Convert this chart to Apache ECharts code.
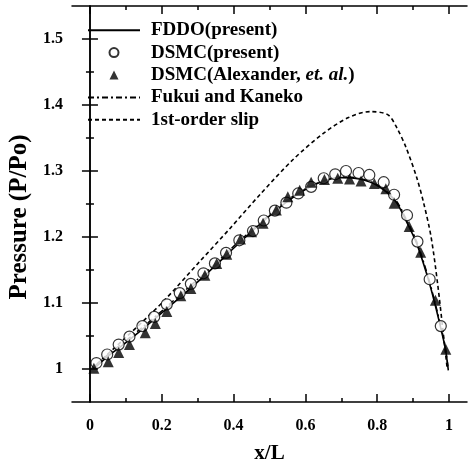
<!DOCTYPE html>
<html>
<head>
<meta charset="utf-8">
<script src="https://cdn.jsdelivr.net/npm/echarts@6/dist/echarts.min.js"></script>
<style>
  html, body { margin: 0; padding: 0; background: #fff; }
  #chart { width: 468px; height: 464px; }
</style>
</head>
<body>
<div id="chart"></div>
<script>
// tick values
var xMajor = [0, 0.2, 0.4, 0.6, 0.8, 1];
var xMinor = [0.1, 0.3, 0.5, 0.7, 0.9];
var yMajor = [1, 1.1, 1.2, 1.3, 1.4, 1.5];
var yMinor = [1.05, 1.15, 1.25, 1.35, 1.45];

// FDDO(present) - solid curve
var fddoX = [0.01, 0.05, 0.1, 0.15, 0.2, 0.25, 0.3, 0.35, 0.4, 0.45, 0.5, 0.55, 0.6, 0.65, 0.7, 0.75, 0.8, 0.85, 0.88, 0.91, 0.94, 0.96, 0.98, 0.99, 0.998];
var fddoY = [1.0, 1.019, 1.04, 1.062, 1.085, 1.108, 1.132, 1.157, 1.183, 1.208, 1.232, 1.254, 1.272, 1.285, 1.29, 1.288, 1.278, 1.255, 1.225, 1.19, 1.14, 1.1, 1.055, 1.03, 0.998];

// Fukui and Kaneko - dash-dot curve
var fukuiX = [0.01, 0.05, 0.1, 0.15, 0.2, 0.25, 0.3, 0.35, 0.4, 0.45, 0.5, 0.55, 0.6, 0.65, 0.7, 0.75, 0.8, 0.85, 0.88, 0.91, 0.94, 0.96, 0.98, 0.99, 0.998];
var fukuiY = [1.003, 1.022, 1.043, 1.065, 1.088, 1.112, 1.136, 1.16, 1.186, 1.21, 1.234, 1.256, 1.273, 1.285, 1.291, 1.289, 1.279, 1.257, 1.228, 1.193, 1.143, 1.103, 1.058, 1.032, 1.0];

// 1st-order slip - dashed curve
var slipX = [0.02, 0.1, 0.2, 0.306, 0.39, 0.473, 0.565, 0.65, 0.72, 0.78, 0.83, 0.855, 0.88, 0.91, 0.93, 0.95, 0.968, 0.986, 0.995];
var slipY = [1.008, 1.048, 1.1, 1.163, 1.213, 1.264, 1.317, 1.357, 1.381, 1.39, 1.385, 1.365, 1.336, 1.29, 1.25, 1.2, 1.13, 1.044, 1.0];

// DSMC(present) - open circles
var dsmcX = [0.018, 0.048, 0.08, 0.11, 0.146, 0.179, 0.214, 0.25, 0.281, 0.316, 0.348, 0.379, 0.416, 0.454, 0.484, 0.515, 0.547, 0.58, 0.616, 0.651, 0.683, 0.713, 0.748, 0.778, 0.818, 0.847, 0.883, 0.912, 0.946, 0.977];
var dsmcY = [1.009, 1.022, 1.037, 1.049, 1.065, 1.079, 1.098, 1.115, 1.129, 1.145, 1.16, 1.176, 1.195, 1.209, 1.225, 1.24, 1.252, 1.266, 1.276, 1.289, 1.295, 1.3, 1.297, 1.294, 1.283, 1.264, 1.233, 1.193, 1.136, 1.065];

// DSMC(Alexander, et. al.) - filled triangles
var alexX = [0.011, 0.051, 0.08, 0.11, 0.154, 0.182, 0.214, 0.253, 0.281, 0.32, 0.353, 0.381, 0.419, 0.45, 0.482, 0.519, 0.551, 0.584, 0.616, 0.653, 0.69, 0.723, 0.755, 0.792, 0.824, 0.847, 0.889, 0.921, 0.962, 0.991];
var alexY = [1.001, 1.011, 1.025, 1.037, 1.055, 1.069, 1.087, 1.111, 1.122, 1.142, 1.16, 1.174, 1.197, 1.208, 1.221, 1.241, 1.261, 1.271, 1.283, 1.287, 1.289, 1.288, 1.285, 1.281, 1.273, 1.251, 1.216, 1.177, 1.104, 1.03];

function zip(xs, ys) {
    var out = [];
    for (var i = 0; i < xs.length; i++) {
        out.push([xs[i], ys[i]]);
    }
    return out;
}

var font = 'Liberation Serif';
var black = '#000';
var noMarker = { color: 'rgba(0,0,0,0)', borderWidth: 0 };

function axis(pos, ticks, len, showLine, showLabel, min, max) {
    return {
        type: 'value',
        position: pos,
        min: min,
        max: max,
        splitLine: { show: false },
        axisLine: { show: showLine, lineStyle: { color: black, width: 1.5 } },
        axisTick: { show: true, inside: true, length: len, customValues: ticks, lineStyle: { color: black, width: 1.5 } },
        axisLabel: {
            show: showLabel,
            customValues: ticks,
            color: black,
            fontFamily: font,
            fontWeight: 'bold',
            fontSize: 16
        }
    };
}

var xBottom = axis('bottom', xMajor, 8, true, true, -0.05, 1.05);
xBottom.axisLabel.margin = 16;
xBottom.name = 'x/L';
xBottom.nameLocation = 'middle';
xBottom.nameGap = 41;
xBottom.nameTextStyle = { color: black, fontFamily: font, fontWeight: 'bold', fontSize: 21 };

var yLeft = axis('left', yMajor, 8, true, true, 0.95, 1.55);
yLeft.axisLabel.margin = 9;
yLeft.name = 'Pressure (P/Po)';
yLeft.nameLocation = 'middle';
yLeft.nameGap = 39;
yLeft.nameTextStyle = { color: black, fontFamily: font, fontWeight: 'bold', fontSize: 25, padding: [0, 26, 0, 0] };

var chart = echarts.init(document.getElementById('chart'), null, { renderer: 'canvas' });

chart.setOption({
    animation: false,
    backgroundColor: '#fff',
    grid: { left: 72, right: 1, top: 6, bottom: 62, outerBoundsMode: 'none' },
    legend: {
        orient: 'vertical',
        left: 82,
        top: 14,
        itemWidth: 52,
        itemHeight: 9,
        itemGap: 0,
        selectedMode: false,
        textStyle: {
            color: black,
            fontFamily: font,
            fontWeight: 'bold',
            fontSize: 19,
            lineHeight: 22.4,
            padding: [0, 0, 0, 6],
            rich: {
                i: { fontFamily: font, fontWeight: 'bold', fontStyle: 'italic', fontSize: 19, color: black }
            }
        },
        formatter: function (name) {
            if (name === 'DSMC(Alexander, et. al.)') {
                return 'DSMC(Alexander, {i|et. al.})';
            }
            return name;
        },
        data: [
            { name: 'FDDO(present)', itemStyle: noMarker },
            { name: 'DSMC(present)' },
            { name: 'DSMC(Alexander, et. al.)', icon: 'path://M5,0 L10,10 L0,10 Z' },
            { name: 'Fukui and Kaneko', itemStyle: noMarker },
            { name: '1st-order slip', itemStyle: noMarker }
        ]
    },
    xAxis: [
        xBottom,
        axis('bottom', xMinor, 4, false, false, -0.05, 1.05),
        axis('top', xMajor, 8, true, false, -0.05, 1.05),
        axis('top', xMinor, 4, false, false, -0.05, 1.05)
    ],
    yAxis: [
        yLeft,
        axis('left', yMinor, 4, false, false, 0.95, 1.55),
        axis('right', yMajor, 8, true, false, 0.95, 1.55),
        axis('right', yMinor, 4, false, false, 0.95, 1.55)
    ],
    series: [
        {
            name: 'FDDO(present)',
            type: 'line',
            data: zip(fddoX, fddoY),
            symbol: 'none',
            smooth: 0.3,
            lineStyle: { color: black, width: 1.6 },
            itemStyle: { color: black },
            z: 2
        },
        {
            name: 'DSMC(present)',
            type: 'scatter',
            data: zip(dsmcX, dsmcY),
            symbol: 'circle',
            symbolSize: 11,
            itemStyle: { color: '#fff', borderColor: black, borderWidth: 1.2 },
            z: 4
        },
        {
            name: 'DSMC(Alexander, et. al.)',
            type: 'scatter',
            data: zip(alexX, alexY),
            symbol: 'triangle',
            symbolSize: 11,
            itemStyle: { color: black },
            z: 5
        },
        {
            name: 'Fukui and Kaneko',
            type: 'line',
            data: zip(fukuiX, fukuiY),
            symbol: 'none',
            smooth: 0.3,
            lineStyle: { color: black, width: 1.4, type: [6, 3, 2, 3] },
            itemStyle: { color: black },
            z: 2
        },
        {
            name: '1st-order slip',
            type: 'line',
            data: zip(slipX, slipY),
            symbol: 'none',
            smooth: 0.3,
            lineStyle: { color: black, width: 1.6, type: [4, 3] },
            itemStyle: { color: black },
            z: 2
        }
    ]
});
</script>
</body>
</html>
